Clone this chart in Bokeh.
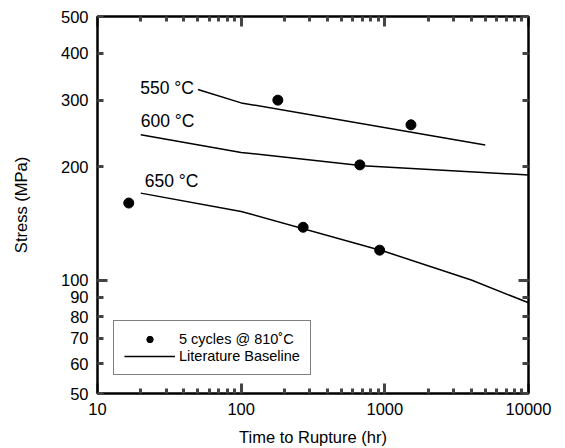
from bokeh.plotting import figure
from bokeh.models import (LogAxis, FixedTicker, Legend, LegendItem, Range1d,
                          BasicTickFormatter)
from bokeh.core.properties import value
from bokeh.embed import file_html
from bokeh.resources import INLINE

# ---- data ----
x_ticks = [10, 100, 1000, 10000]
x_tick_labels = ["10", "100", "1000", "10000"]
y_ticks = [50, 60, 70, 80, 90, 100, 200, 300, 400, 500]
y_tick_labels = ["50", "60", "70", "80", "90", "100", "200", "300", "400", "500"]

test_time = [16.5, 180, 1520, 670, 270, 920]
test_stress = [160, 300, 258, 202, 138, 120]

base_550_time = [50, 100, 5000]
base_550_stress = [320, 295, 228]
base_600_time = [20, 100, 700, 10000]
base_600_stress = [243, 218, 201, 190]
base_650_time = [20, 100, 1000, 4000, 10000]
base_650_stress = [170, 152, 119, 100, 87]

temp_labels = ["550 °C", "600 °C", "650 °C"]
legend_labels = ["5 cycles @ 810˚C", "Literature Baseline"]

FONT = "Liberation Sans"
TICK_COLOR = "#444444"

p = figure(width=557, height=448, x_axis_type="log", y_axis_type="log",
           x_range=Range1d(x_ticks[0], x_ticks[-1]),
           y_range=Range1d(y_ticks[0], y_ticks[-1]),
           output_backend="svg", toolbar_location=None,
           min_border_left=97, min_border_right=29, min_border_top=16,
           min_border_bottom=55)
p.grid.visible = False
p.outline_line_color = "black"
p.outline_line_width = 2
p.background_fill_color = "white"
p.border_fill_color = "white"

x_minor = [d * m for d in x_ticks[:-1] for m in range(2, 10)]


def style(ax, ticks, labels, minor, show_labels, major_in, minor_in):
    ax.ticker = FixedTicker(ticks=ticks, minor_ticks=minor)
    ax.formatter = BasicTickFormatter(use_scientific=False)
    if show_labels:
        ax.major_label_overrides = {t: l for t, l in zip(ticks, labels)}
    else:
        ax.major_label_overrides = {t: "" for t in ticks}
        ax.major_label_standoff = 0
    ax.axis_line_color = "black"
    ax.axis_line_width = 2
    ax.major_tick_line_color = TICK_COLOR
    ax.major_tick_line_width = 3
    ax.major_tick_in = major_in
    ax.major_tick_out = 0
    ax.minor_tick_line_color = TICK_COLOR
    ax.minor_tick_line_width = 3
    ax.minor_tick_in = minor_in
    ax.minor_tick_out = 0
    ax.major_label_text_font = FONT
    ax.major_label_text_font_size = "16.5px"
    ax.major_label_text_color = "black"
    ax.axis_label_text_font = FONT
    ax.axis_label_text_font_size = "16.5px"
    ax.axis_label_text_font_style = "normal"
    ax.axis_label_text_color = "black"


xb = p.xaxis[0]
style(xb, x_ticks, x_tick_labels, x_minor, True, 10, 5)
xb.axis_label = "Time to Rupture (hr)"
xb.major_label_standoff = 9
xb.axis_label_standoff = 10

yl = p.yaxis[0]
style(yl, y_ticks, y_tick_labels, [100], True, 6, 10)
yl.axis_label = "Stress (MPa)"
yl.major_label_standoff = 9
yl.axis_label_standoff = 28

xt = LogAxis()
style(xt, x_ticks, x_tick_labels, x_minor, False, 10, 5)
p.add_layout(xt, "above")

yr = LogAxis()
style(yr, y_ticks, y_tick_labels, [100], False, 6, 10)
p.add_layout(yr, "right")

# baselines
l550 = p.line(base_550_time, base_550_stress, line_color="black", line_width=1.5)
p.line(base_600_time, base_600_stress, line_color="black", line_width=1.5)
p.line(base_650_time, base_650_stress, line_color="black", line_width=1.5)

pts = p.scatter(test_time, test_stress, size=10, marker="circle",
                fill_color="black", line_color="black")

# temperature labels anchored at line starts
p.text(x=[base_550_time[0]], y=[base_550_stress[0]], text=[temp_labels[0]],
       text_align="right", text_baseline="middle", x_offset=-4, y_offset=-2,
       text_font=value(FONT), text_font_size="17.5px", text_color="black")
p.text(x=[base_600_time[0]], y=[base_600_stress[0]], text=[temp_labels[1]],
       text_align="left", text_baseline="middle", x_offset=0, y_offset=-14,
       text_font=value(FONT), text_font_size="17.5px", text_color="black")
p.text(x=[base_650_time[0]], y=[base_650_stress[0]], text=[temp_labels[2]],
       text_align="left", text_baseline="middle", x_offset=4, y_offset=-12,
       text_font=value(FONT), text_font_size="17.5px", text_color="black")

legend = Legend(items=[LegendItem(label=legend_labels[0], renderers=[pts]),
                       LegendItem(label=legend_labels[1], renderers=[l550])],
                location=(16, 18), border_line_color="black", border_line_width=1.5,
                padding=10, spacing=1, glyph_width=51, glyph_height=16,
                label_height=16, label_standoff=4, margin=0,
                label_text_font=FONT, label_text_font_size="14.5px",
                label_text_color="black", background_fill_color="white",
                background_fill_alpha=1)
p.add_layout(legend)

open("out.html", "w").write(file_html(p, INLINE))
